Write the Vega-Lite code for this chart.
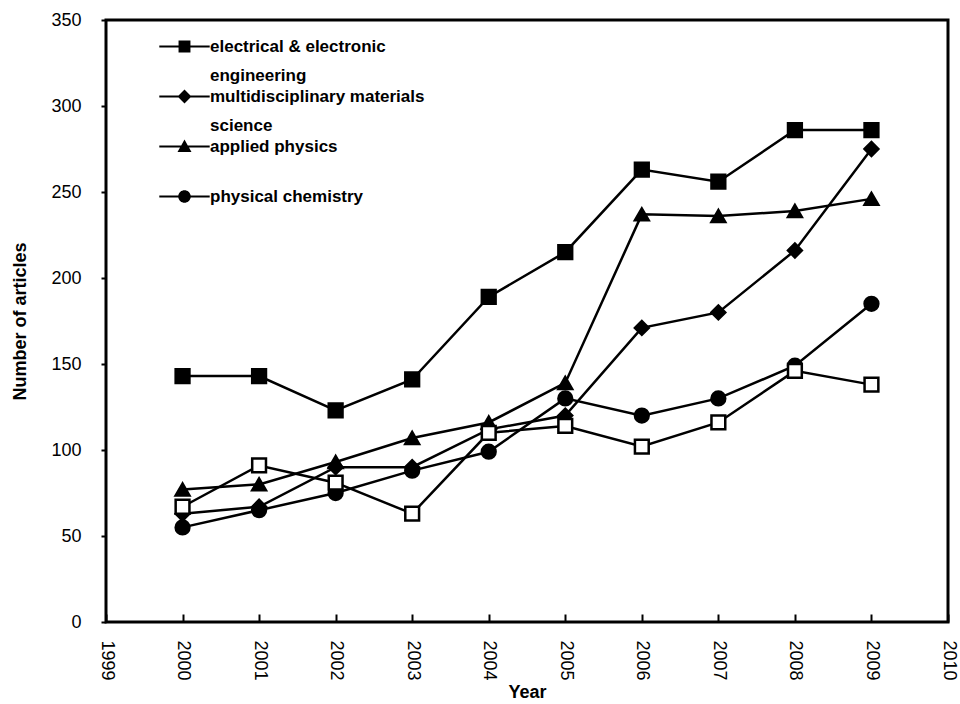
{
  "$schema": "https://vega.github.io/schema/vega-lite/v6.json",
  "autosize": "none",
  "padding": {"left": 106, "top": 20, "right": 12, "bottom": 82},
  "width": 842,
  "height": 602,
  "background": "white",
  "config": {
    "view": {"stroke": "black", "strokeWidth": 3},
    "font": "Liberation Sans",
    "style": {"guide-label": {"lineHeight": 29}}
  },
  "data": {
    "values": [
      {"year": 2000, "series": "electrical & electronic engineering", "value": 143},
      {"year": 2001, "series": "electrical & electronic engineering", "value": 143},
      {"year": 2002, "series": "electrical & electronic engineering", "value": 123},
      {"year": 2003, "series": "electrical & electronic engineering", "value": 141},
      {"year": 2004, "series": "electrical & electronic engineering", "value": 189},
      {"year": 2005, "series": "electrical & electronic engineering", "value": 215},
      {"year": 2006, "series": "electrical & electronic engineering", "value": 263},
      {"year": 2007, "series": "electrical & electronic engineering", "value": 256},
      {"year": 2008, "series": "electrical & electronic engineering", "value": 286},
      {"year": 2009, "series": "electrical & electronic engineering", "value": 286},
      {"year": 2000, "series": "multidisciplinary materials science", "value": 63},
      {"year": 2001, "series": "multidisciplinary materials science", "value": 67},
      {"year": 2002, "series": "multidisciplinary materials science", "value": 90},
      {"year": 2003, "series": "multidisciplinary materials science", "value": 90},
      {"year": 2004, "series": "multidisciplinary materials science", "value": 112},
      {"year": 2005, "series": "multidisciplinary materials science", "value": 120},
      {"year": 2006, "series": "multidisciplinary materials science", "value": 171},
      {"year": 2007, "series": "multidisciplinary materials science", "value": 180},
      {"year": 2008, "series": "multidisciplinary materials science", "value": 216},
      {"year": 2009, "series": "multidisciplinary materials science", "value": 275},
      {"year": 2000, "series": "applied physics", "value": 77},
      {"year": 2001, "series": "applied physics", "value": 80},
      {"year": 2002, "series": "applied physics", "value": 93},
      {"year": 2003, "series": "applied physics", "value": 107},
      {"year": 2004, "series": "applied physics", "value": 116},
      {"year": 2005, "series": "applied physics", "value": 139},
      {"year": 2006, "series": "applied physics", "value": 237},
      {"year": 2007, "series": "applied physics", "value": 236},
      {"year": 2008, "series": "applied physics", "value": 239},
      {"year": 2009, "series": "applied physics", "value": 246},
      {"year": 2000, "series": "physical chemistry", "value": 55},
      {"year": 2001, "series": "physical chemistry", "value": 65},
      {"year": 2002, "series": "physical chemistry", "value": 75},
      {"year": 2003, "series": "physical chemistry", "value": 88},
      {"year": 2004, "series": "physical chemistry", "value": 99},
      {"year": 2005, "series": "physical chemistry", "value": 130},
      {"year": 2006, "series": "physical chemistry", "value": 120},
      {"year": 2007, "series": "physical chemistry", "value": 130},
      {"year": 2008, "series": "physical chemistry", "value": 149},
      {"year": 2009, "series": "physical chemistry", "value": 185},
      {"year": 2000, "series": "others", "value": 67},
      {"year": 2001, "series": "others", "value": 91},
      {"year": 2002, "series": "others", "value": 81},
      {"year": 2003, "series": "others", "value": 63},
      {"year": 2004, "series": "others", "value": 110},
      {"year": 2005, "series": "others", "value": 114},
      {"year": 2006, "series": "others", "value": 102},
      {"year": 2007, "series": "others", "value": 116},
      {"year": 2008, "series": "others", "value": 146},
      {"year": 2009, "series": "others", "value": 138}
    ]
  },
  "encoding": {
    "x": {
      "field": "year",
      "type": "quantitative",
      "scale": {"domain": [1999, 2010], "nice": false, "zero": false},
      "axis": {
        "title": "Year",
        "values": [1999, 2000, 2001, 2002, 2003, 2004, 2005, 2006, 2007, 2008, 2009, 2010],
        "format": "d",
        "grid": false,
        "domain": false,
        "labelAngle": 90,
        "labelFontSize": 18,
        "labelColor": "black",
        "labelFont": "Liberation Sans",
        "tickColor": "black",
        "tickWidth": 2,
        "tickSize": -8,
        "labelPadding": 26,
        "titleFontSize": 18,
        "titleFontWeight": "bold",
        "titleColor": "black",
        "titleFont": "Liberation Sans",
        "titleY": 70,
        "titleBaseline": "middle"
      }
    },
    "y": {
      "field": "value",
      "type": "quantitative",
      "scale": {"domain": [0, 350], "nice": false},
      "axis": {
        "title": "Number of articles",
        "values": [0, 50, 100, 150, 200, 250, 300, 350],
        "grid": false,
        "domain": false,
        "labelFontSize": 18,
        "labelColor": "black",
        "labelFont": "Liberation Sans",
        "tickColor": "black",
        "tickWidth": 2,
        "tickSize": 5,
        "labelPadding": 20,
        "titleFontSize": 18,
        "titleFontWeight": "bold",
        "titleColor": "black",
        "titleFont": "Liberation Sans",
        "titleX": -86,
        "titleBaseline": "middle"
      }
    }
  },
  "resolve": {"scale": {"shape": "independent"}, "legend": {"shape": "independent"}},
  "layer": [
    {
      "mark": {"type": "line", "color": "black", "strokeWidth": 2.5},
      "encoding": {"detail": {"field": "series"}}
    },
    {
      "mark": {"type": "point", "stroke": "black", "strokeWidth": 2.5, "opacity": 1, "size": 190},
      "encoding": {
        "shape": {
          "field": "series",
          "type": "nominal",
          "scale": {
            "domain": ["electrical & electronic engineering", "multidisciplinary materials science", "applied physics", "physical chemistry", "others"],
            "range": ["square", "diamond", "triangle-up", "circle", "square"]
          },
          "legend": null
        },
        "fill": {
          "field": "series",
          "type": "nominal",
          "scale": {
            "domain": ["electrical & electronic engineering", "multidisciplinary materials science", "applied physics", "physical chemistry", "others"],
            "range": ["black", "black", "black", "black", "white"]
          },
          "legend": null
        }
      }
    },
    {
      "transform": [{"filter": "false"}],
      "mark": {"type": "point", "filled": true, "fill": "black", "opacity": 1},
      "encoding": {
        "shape": {
          "field": "series",
          "type": "nominal",
          "scale": {
            "domain": ["electrical & electronic engineering", "multidisciplinary materials science", "applied physics", "physical chemistry"],
            "range": [
              "M-3.6,-0.15H-0.85V-0.85H0.85V-0.15H3.6V0.15H0.85V0.85H-0.85V0.15H-3.6Z",
              "M-3.6,-0.15H-0.85L0,-1L0.85,-0.15H3.6V0.15H0.85L0,1L-0.85,0.15H-3.6Z",
              "M-3.6,-0.15H-0.472L0,-1L0.472,-0.15H3.6V0.15H0.639L1,0.8H-1L-0.639,0.15H-3.6Z",
              "M-3.6,-0.15H-0.887A0.9,0.9,0,0,1,0.887,-0.15H3.6V0.15H0.887A0.9,0.9,0,0,1,-0.887,0.15H-3.6Z"
            ]
          },
          "legend": {
            "title": null,
            "orient": "none",
            "legendX": 70,
            "legendY": 18,
            "padding": 0,
            "symbolSize": 196,
            "symbolFillColor": "black",
            "symbolStrokeWidth": 0,
            "symbolOpacity": 1,
            "labelOffset": 17,
            "labelFontSize": 17,
            "labelFontWeight": "bold",
            "labelFont": "Liberation Sans",
            "labelColor": "black",
            "labelLimit": 400,
            "rowPadding": 3,
            "labelExpr": "datum.label == 'electrical & electronic engineering' ? ['electrical & electronic', 'engineering'] : datum.label == 'multidisciplinary materials science' ? ['multidisciplinary materials', 'science'] : [datum.label, ' ']",
            "encode": {
              "labels": {"lineHeight": {"value": 29}}
            }
          }
        }
      }
    }
  ]
}
